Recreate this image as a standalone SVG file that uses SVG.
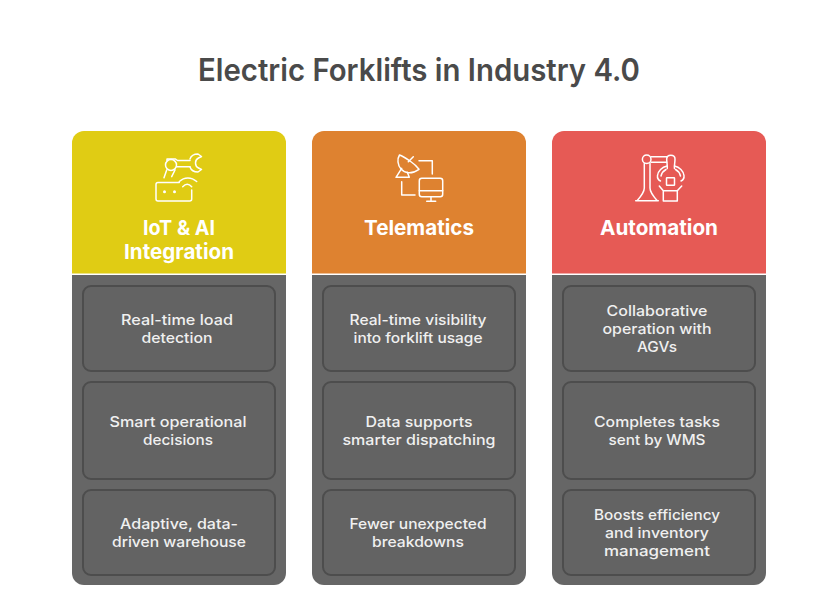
<svg xmlns="http://www.w3.org/2000/svg" width="815" height="603" viewBox="0 0 815 603">
<style>
text{font-family:"Inter","Noto Sans","Liberation Sans",sans-serif;text-anchor:middle}
.title{font-size:31px;font-weight:600;fill:#4a4a4a}
.head{font-size:20.500px;font-weight:700;fill:#fff}
.item{font-size:14.500px;font-weight:500;fill:#f0f0f0}
.body{fill:#666}
.box{fill:#636363;stroke:#4d4d4d;stroke-width:2}
.ic{fill:none;stroke:#fff;stroke-width:1.500;stroke-linecap:round;stroke-linejoin:round}
.dot{fill:#fff}
</style>
<rect width="815" height="603" fill="#fff"/>
<text class="title" x="419" y="81" textLength="442" lengthAdjust="spacingAndGlyphs">Electric Forklifts in Industry 4.0</text>

<g id="col-iot">
<path fill="#e0cc14" d="M72 273.500V143a12 12 0 0 1 12-12H274a12 12 0 0 1 12 12V273.500Z"/>
<path class="body" d="M72 275H286V573a12 12 0 0 1-12 12H84a12 12 0 0 1-12-12Z"/>
<g class="ic">
<circle cx="171" cy="165" r="5.500"/>
<path d="M167 160.500V159h8.500l2 1.500H190M176.500 166.700H190"/>
<path d="M190 159c1-3 4-5 8-5l3.500 2.500-3 1.500c-2 1-3 3-3 5s1 4 3 5l3 1.500-3.500 2.500c-4 0-7-2-8-5"/>
<path d="M166.700 170l-2.700 7.700M175 170l-3.300 6.700"/>
<path d="M179.300 182.500h-21.300a2 2 0 0 0-2 2v14.500a2 2 0 0 0 2 2h31.700a2 2 0 0 0 2-2v-9"/>
<path d="M179.300 181.500c5-4.800 12-4.800 17.400 0M182.700 186.700c3-3.400 6-3.400 9 0"/>
</g>
<circle class="dot" cx="164.500" cy="191.700" r="1.500"/><circle class="dot" cx="174.500" cy="191.700" r="1.500"/>
<text class="head" x="179" y="235" textLength="72" lengthAdjust="spacingAndGlyphs">IoT &amp; AI</text>
<text class="head" x="179" y="259" textLength="110" lengthAdjust="spacingAndGlyphs">Integration</text>
<rect class="box" x="83" y="286" width="192" height="85" rx="8"/>
<text class="item" x="177" y="325" textLength="112" lengthAdjust="spacingAndGlyphs">Real-time load</text>
<text class="item" x="177" y="343" textLength="71" lengthAdjust="spacingAndGlyphs">detection</text>
<rect class="box" x="83" y="382" width="192" height="97" rx="8"/>
<text class="item" x="178" y="427" textLength="137" lengthAdjust="spacingAndGlyphs">Smart operational</text>
<text class="item" x="178" y="445" textLength="70" lengthAdjust="spacingAndGlyphs">decisions</text>
<rect class="box" x="83" y="490" width="192" height="85" rx="8"/>
<text class="item" x="179" y="529" textLength="118" lengthAdjust="spacingAndGlyphs">Adaptive, data-</text>
<text class="item" x="179" y="547" textLength="134" lengthAdjust="spacingAndGlyphs">driven warehouse</text>
</g>

<g id="col-telematics">
<path fill="#de8230" d="M312 273.500V143a12 12 0 0 1 12-12H514a12 12 0 0 1 12 12V273.500Z"/>
<path class="body" d="M312 275H526V573a12 12 0 0 1-12 12H324a12 12 0 0 1-12-12Z"/>
<g class="ic">
<path d="M399.500 155c-2.500 4-2 10 1.500 14s10 6 18 0.300c-3-4-6-6.300-9-8.300s-6.500-4.500-10.500-6Z"/>
<path d="M408.300 161.700l5-5M401.700 168.300l-5.700 9h13.300l-2-5"/>
<path d="M419 160.700h13.300V174M401.700 181.700V195H415"/>
<rect x="419.300" y="178.300" width="23.400" height="18.400" rx="2.500"/>
<path d="M419.300 190.700h23.400M431 196.700V201M426.700 201.300h9"/>
</g>
<text class="head" x="419" y="235" textLength="110" lengthAdjust="spacingAndGlyphs">Telematics</text>
<rect class="box" x="323" y="286" width="192" height="85" rx="8"/>
<text class="item" x="418" y="325" textLength="137" lengthAdjust="spacingAndGlyphs">Real-time visibility</text>
<text class="item" x="418" y="343" textLength="129" lengthAdjust="spacingAndGlyphs">into forklift usage</text>
<rect class="box" x="323" y="382" width="192" height="97" rx="8"/>
<text class="item" x="419" y="427" textLength="107" lengthAdjust="spacingAndGlyphs">Data supports</text>
<text class="item" x="419" y="445" textLength="153" lengthAdjust="spacingAndGlyphs">smarter dispatching</text>
<rect class="box" x="323" y="490" width="192" height="85" rx="8"/>
<text class="item" x="418" y="529" textLength="137" lengthAdjust="spacingAndGlyphs">Fewer unexpected</text>
<text class="item" x="418" y="547" textLength="92" lengthAdjust="spacingAndGlyphs">breakdowns</text>
</g>

<g id="col-automation">
<path fill="#e65a55" d="M552 273.500V143a12 12 0 0 1 12-12H754a12 12 0 0 1 12 12V273.500Z"/>
<path class="body" d="M552 275H766V573a12 12 0 0 1-12 12H564a12 12 0 0 1-12-12Z"/>
<g class="ic">
<circle cx="646.700" cy="159.300" r="4.300"/>
<path d="M651 156.700h16.300M651 162.300h15.700"/>
<path d="M644.300 163.500V188c0 4-3 8-7.300 12.700M650 163.500V188c0 4 3 8 7.300 12.700M635.700 200.800h22.600"/>
<path d="M666.700 159c0-5 8.300-5 8.300 0c0 4-1 7-0.500 9.500M666.700 159c0 4 1 7 0.500 9.500"/>
<path d="M667 166c-5 1-9 5-9.500 9.500c-0.300 2.500 1 4.500 3 5.500M674.500 166c5 1 9 5 9.500 9.500c0.300 2.500-1 4.500-3 5.500M661 176c1-4 3-5.500 5-6.500M680.500 176c-1-4-3-5.500-5-6.500"/>
<rect x="666.500" y="177.700" width="8" height="7.500" rx="0.500"/>
<path d="M659.300 186l4 4.700h14l4.400-4.700M663.300 190.700V201h14V190.700Z"/>
</g>
<text class="head" x="659" y="235" textLength="118" lengthAdjust="spacingAndGlyphs">Automation</text>
<rect class="box" x="563" y="286" width="192" height="85" rx="8"/>
<text class="item" x="657" y="316" textLength="101" lengthAdjust="spacingAndGlyphs">Collaborative</text>
<text class="item" x="657" y="334" textLength="109" lengthAdjust="spacingAndGlyphs">operation with</text>
<text class="item" x="657" y="352" textLength="40" lengthAdjust="spacingAndGlyphs">AGVs</text>
<rect class="box" x="563" y="382" width="192" height="97" rx="8"/>
<text class="item" x="657" y="427" textLength="126" lengthAdjust="spacingAndGlyphs">Completes tasks</text>
<text class="item" x="657" y="445" textLength="97" lengthAdjust="spacingAndGlyphs">sent by WMS</text>
<rect class="box" x="563" y="490" width="192" height="85" rx="8"/>
<text class="item" x="657" y="520" textLength="126" lengthAdjust="spacingAndGlyphs">Boosts efficiency</text>
<text class="item" x="657" y="538" textLength="104" lengthAdjust="spacingAndGlyphs">and inventory</text>
<text class="item" x="657" y="556" textLength="106" lengthAdjust="spacingAndGlyphs">management</text>
</g>
</svg>
